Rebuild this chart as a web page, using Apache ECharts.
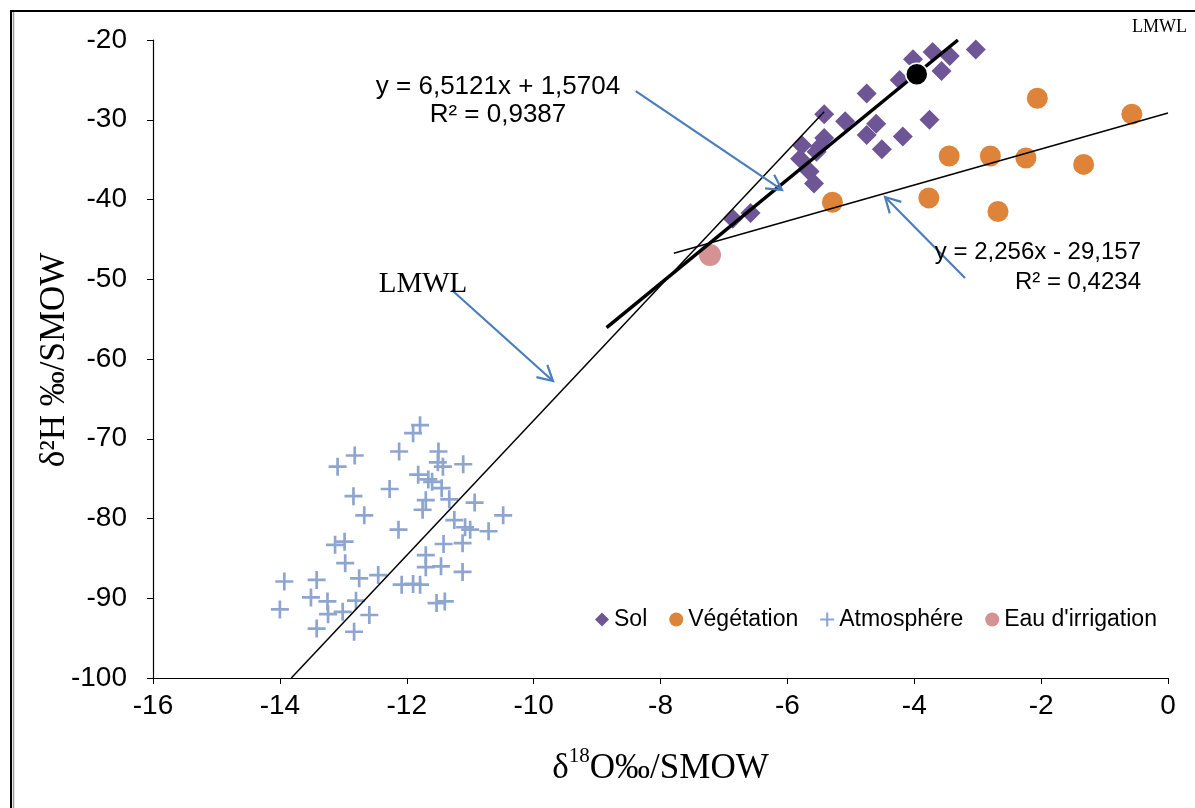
<!DOCTYPE html>
<html>
<head>
<meta charset="utf-8">
<script src="https://cdn.jsdelivr.net/npm/echarts@6/dist/echarts.min.js"></script>
<style>
  html, body { margin: 0; padding: 0; background: #ffffff; }
  #chart { width: 1195px; height: 808px; }
</style>
</head>
<body>
<div id="chart"></div>
<script>
// Soil samples (δ18O, δ2H)
const sol = [
  [-3.03, -21.2], [-3.71, -21.5], [-3.44, -22.0], [-4.02, -22.4], [-3.57, -23.9],
  [-4.23, -25.0], [-4.75, -26.7], [-5.42, -29.3], [-5.09, -30.2], [-4.60, -30.5],
  [-3.76, -30.0], [-4.75, -31.9], [-4.18, -32.1], [-4.51, -33.7], [-5.42, -32.3],
  [-5.77, -33.2], [-5.49, -33.4], [-5.54, -34.0], [-5.80, -34.9], [-5.65, -36.5],
  [-5.58, -38.0], [-6.86, -42.4], [-6.58, -41.7]
];
// Mean soil value (black dot)
const solMoyenne = [[-3.96, -24.3]];

// Vegetation samples
const vegetation = [
  [-2.06, -27.3], [-0.57, -29.3], [-3.45, -34.55], [-2.80, -34.55], [-2.24, -34.8],
  [-1.33, -35.6], [-5.29, -40.35], [-3.77, -39.8], [-2.68, -41.5]
];

// Atmospheric vapour samples
const atmosphere = [
  [-11.79, -68.3], [-11.90, -69.3], [-12.12, -71.6], [-12.82, -72.1], [-13.09, -73.5],
  [-11.50, -71.6], [-11.51, -72.95], [-11.43, -73.5], [-11.11, -73.2], [-11.82, -74.5],
  [-11.66, -75.1], [-11.60, -75.4], [-11.45, -76.2], [-11.33, -77.6], [-12.27, -76.3],
  [-12.84, -77.2], [-11.70, -77.7], [-11.75, -78.9], [-10.93, -78.0], [-10.48, -79.6],
  [-12.67, -79.6], [-11.25, -80.2], [-11.08, -81.1], [-11.00, -81.4], [-10.71, -81.6],
  [-12.13, -81.4], [-11.42, -83.2], [-11.12, -83.1], [-13.13, -83.3], [-12.98, -82.9],
  [-12.97, -85.6], [-11.70, -84.6], [-11.70, -86.1], [-11.46, -86.0], [-11.12, -86.7],
  [-12.75, -87.5], [-12.45, -87.1], [-13.93, -87.9], [-13.42, -87.7], [-12.08, -88.3],
  [-11.90, -88.2], [-11.79, -88.3], [-13.51, -89.9], [-13.25, -90.4], [-12.80, -90.3],
  [-14.00, -91.4], [-13.24, -92.0], [-13.01, -91.7], [-12.59, -92.1], [-11.53, -90.6],
  [-11.40, -90.4], [-13.42, -93.8], [-12.83, -94.2]
];

// Irrigation water
const irrigation = [[-7.22, -46.95]];

// Local meteoric water line
const lmwl = [[-13.82, -100], [-5.42, -29.0]];

// Regression lines: slope, intercept, x extent
const regSol = { slope: 6.5121, intercept: 1.5704, xFrom: -8.85, xTo: -3.312 };
const regVeg = { slope: 2.256, intercept: -29.157, xFrom: -7.79, xTo: 0 };

// Axis ticks
const xTicks = { min: -16, max: 0, interval: 2 };
const yTicks = { min: -100, max: -20, interval: 10 };

// Annotation arrows (tail -> head) in data coordinates
const arrows = [
  [[-8.39, -26.4], [-6.085, -38.8]],
  [[-3.20, -49.84], [-4.46, -39.69]],
  [[-11.29, -51.35], [-9.695, -62.76]]
];

function lineFrom(reg) {
  return [
    [reg.xFrom, reg.slope * reg.xFrom + reg.intercept],
    [reg.xTo, reg.slope * reg.xTo + reg.intercept]
  ];
}

const plusPath = 'path://M0,8.5H8.5V0H11.5V8.5H20V11.5H11.5V20H8.5V11.5H0Z';
const SANS = 'Arial, "Liberation Sans", sans-serif';
const SERIF = '"Times New Roman", "Liberation Serif", serif';

const chart = echarts.init(document.getElementById('chart'), null, { renderer: 'canvas' });

const option = {
  backgroundColor: '#ffffff',
  animation: false,
  grid: { left: 153, right: 27, top: 40, bottom: 130 },
  xAxis: {
    type: 'value',
    min: xTicks.min, max: xTicks.max, interval: xTicks.interval,
    name: '{a|δ}{s|18}{a|O‰/SMOW}',
    nameLocation: 'middle',
    nameGap: 68,
    nameTextStyle: {
      rich: {
        a: { fontFamily: SERIF, fontSize: 35, color: '#000', lineHeight: 40, verticalAlign: 'bottom' },
        s: { fontFamily: SERIF, fontSize: 21, color: '#000', lineHeight: 40, verticalAlign: 'top', padding: [0, 0, 14, 0] }
      }
    },
    axisLine: { onZero: false, lineStyle: { color: '#000', width: 1.2 } },
    axisTick: { show: true, inside: false, length: 6, lineStyle: { color: '#000' } },
    axisLabel: { fontFamily: SANS, fontSize: 28, color: '#000', margin: 14 },
    splitLine: { show: false }
  },
  yAxis: {
    type: 'value',
    min: yTicks.min, max: yTicks.max, interval: yTicks.interval,
    axisLine: { onZero: false, lineStyle: { color: '#000', width: 1.2 } },
    axisTick: { show: true, inside: false, length: 6, lineStyle: { color: '#000' } },
    axisLabel: { fontFamily: SANS, fontSize: 28, color: '#000', margin: 26 },
    splitLine: { show: false }
  },
  legend: {
    left: 590,
    top: 603,
    orient: 'horizontal',
    itemWidth: 14,
    itemHeight: 14,
    itemGap: 22,
    textStyle: { fontFamily: SANS, fontSize: 23, color: '#000' },
    data: [
      { name: 'Sol', icon: 'diamond' },
      { name: 'Végétation', icon: 'circle' },
      { name: 'Atmosphére', icon: plusPath },
      { name: "Eau d'irrigation", icon: 'circle' }
    ]
  },
  series: [
    {
      name: 'Atmosphére', type: 'scatter', data: atmosphere,
      symbol: plusPath, symbolSize: 18, z: 2,
      itemStyle: { color: '#8EA6CF', opacity: 1 }
    },
    {
      name: 'Sol', type: 'scatter', data: sol,
      symbol: 'diamond', symbolSize: 20, z: 2,
      itemStyle: { color: '#6E5596', opacity: 1 }
    },
    {
      name: 'Végétation', type: 'scatter', data: vegetation,
      symbol: 'circle', symbolSize: 21, z: 2,
      itemStyle: { color: '#DE843A', opacity: 1 }
    },
    {
      name: "Eau d'irrigation", type: 'scatter', data: irrigation,
      symbol: 'circle', symbolSize: 22, z: 2,
      itemStyle: { color: '#D49294', opacity: 1 }
    },
    {
      name: 'LMWL', type: 'line', data: lmwl, showSymbol: false, symbol: 'none', z: 3,
      lineStyle: { color: '#000', width: 1.5 }
    },
    {
      name: 'Régression Sol', type: 'line', data: lineFrom(regSol), showSymbol: false, symbol: 'none', z: 3,
      lineStyle: { color: '#000', width: 3.5 }
    },
    {
      name: 'Régression Végétation', type: 'line', data: lineFrom(regVeg), showSymbol: false, symbol: 'none', z: 3,
      lineStyle: { color: '#000', width: 1.5 }
    },
    {
      name: 'Moyenne Sol', type: 'scatter', data: solMoyenne,
      symbol: 'circle', symbolSize: 22, z: 4,
      itemStyle: { color: '#000', borderColor: '#fff', borderWidth: 1.5, opacity: 1 }
    }
  ]
};

chart.setOption(option);

// Build annotation arrows from data coordinates
const arrowColor = '#4A7EBB';
const graphics = [];
arrows.forEach(function (a) {
  const p0 = chart.convertToPixel({ gridIndex: 0 }, a[0]);
  const p1 = chart.convertToPixel({ gridIndex: 0 }, a[1]);
  const ang = Math.atan2(p1[1] - p0[1], p1[0] - p0[0]);
  const L = 17, spread = 0.5;
  const h1 = [p1[0] - L * Math.cos(ang - spread), p1[1] - L * Math.sin(ang - spread)];
  const h2 = [p1[0] - L * Math.cos(ang + spread), p1[1] - L * Math.sin(ang + spread)];
  graphics.push({
    type: 'polyline', z: 10,
    shape: { points: [p0, p1] },
    style: { stroke: arrowColor, lineWidth: 2.2, fill: null }
  });
  graphics.push({
    type: 'polyline', z: 10,
    shape: { points: [h1, p1, h2] },
    style: { stroke: arrowColor, lineWidth: 2.2, fill: null }
  });
});

// Outer frame (top and left edges)
graphics.push({ type: 'line', z: 0, shape: { x1: 10, y1: 11, x2: 1195, y2: 11 }, style: { stroke: '#000', lineWidth: 2 } });
graphics.push({ type: 'line', z: 0, shape: { x1: 11, y1: 10, x2: 11, y2: 808 }, style: { stroke: '#000', lineWidth: 2 } });
graphics.push({ type: 'line', z: 0, shape: { x1: 13.5, y1: 12, x2: 13.5, y2: 808 }, style: { stroke: '#9a9a9a', lineWidth: 1.5 } });

// Vertical axis title
graphics.push({
  type: 'text', z: 10, x: 55, y: 360, rotation: Math.PI / 2,
  style: { x: 0, y: 0, text: 'δ²H ‰/SMOW', align: 'center', verticalAlign: 'middle', font: '35px ' + SERIF, fill: '#000' }
});

// Text annotations
graphics.push({
  type: 'text', z: 10,
  style: { x: 498, y: 73, text: 'y = 6,5121x + 1,5704\nR² = 0,9387', align: 'center', font: '26px ' + SANS, fill: '#000', lineHeight: 28 }
});
graphics.push({
  type: 'text', z: 10,
  style: { x: 1141, y: 237, text: 'y = 2,256x - 29,157\nR² = 0,4234', align: 'right', font: '24px ' + SANS, fill: '#000', lineHeight: 30 }
});
graphics.push({
  type: 'text', z: 10,
  style: { x: 423, y: 270, text: 'LMWL', align: 'center', font: '29px ' + SERIF, fill: '#000' }
});
graphics.push({
  type: 'text', z: 10,
  style: { x: 1187, y: 18, text: 'LMWL', align: 'right', font: '18px ' + SERIF, fill: '#000' }
});

chart.setOption({ graphic: graphics });
</script>
</body>
</html>
